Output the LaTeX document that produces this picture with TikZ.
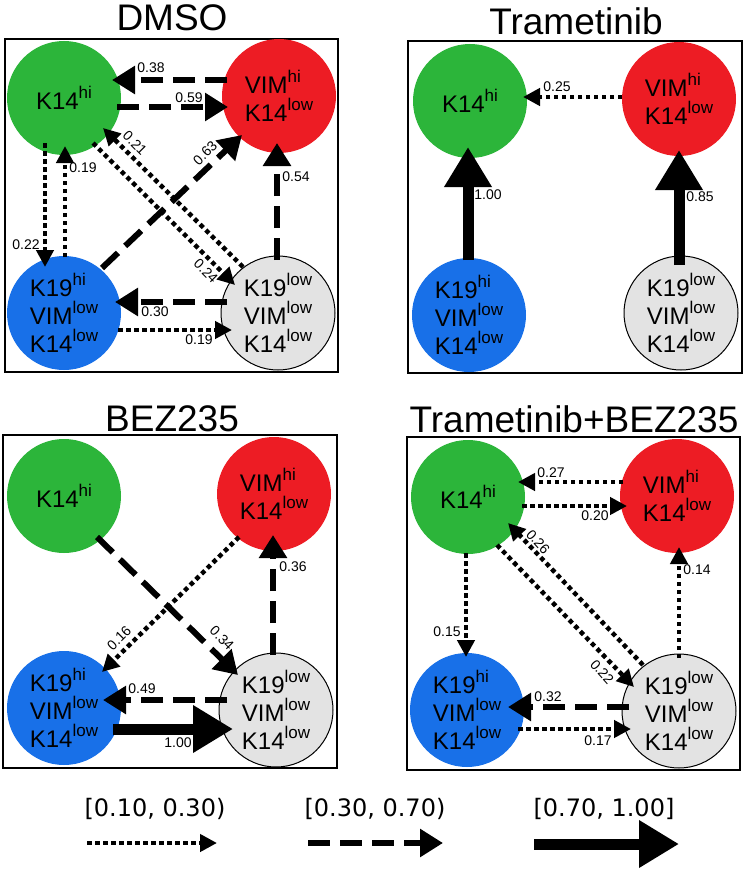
\documentclass[tikz,border=0pt]{standalone}
\usepackage{fontspec}
\setmainfont{Liberation Sans}
\newfontfamily\legendfont{DejaVu Sans}
\usetikzlibrary{arrows.meta}
\definecolor{cgreen}{RGB}{44,181,58}
\definecolor{cred}{RGB}{237,28,36}
\definecolor{cblue}{RGB}{24,112,232}
\definecolor{cgray}{RGB}{227,227,227}
\newcommand\sups[1]{\raisebox{11pt}{\fontsize{17}{17}\selectfont #1}}
\newcommand\txtG{K14\sups{hi}}
\newcommand\txtR{VIM\sups{hi}\\K14\sups{low}}
\newcommand\txtB{K19\sups{hi}\\VIM\sups{low}\\K14\sups{low}}
\newcommand\txtY{K19\sups{low}\\VIM\sups{low}\\K14\sups{low}}
\begin{document}
\begin{tikzpicture}[x=1pt,y=-1pt,
  cell/.style={circle, minimum size=114pt, inner sep=0pt, align=left, font=\fontsize{24}{28}\selectfont},
  cg/.style={cell, fill=cgreen},
  cr/.style={cell, fill=cred},
  cb/.style={cell, fill=cblue},
  cy/.style={cell, fill=cgray, draw=black, line width=1pt},
  dotarr/.style={line width=4.5pt, dash pattern=on 4.5pt off 3.5pt, -{Triangle[length=17pt,width=17pt]}},
  dasharr/.style={line width=6pt, dash pattern=on 22pt off 10pt, -{Triangle[length=23pt,width=27pt]}},
  thickarr/.style={line width=11pt, -{Triangle[length=40pt,width=45pt]}},
  lab/.style={font=\fontsize{14}{14}\selectfont, inner sep=0pt},
  frame/.style={line width=2pt},
  ttl/.style={font=\fontsize{37}{37}\selectfont, inner sep=0pt},
  leg/.style={font=\legendfont\fontsize{24}{24}\selectfont, inner sep=0pt}
]
\useasboundingbox (0,0) rectangle (746,872);
\fill[white] (0,0) rectangle (746,872);

% ---------- DMSO ----------
\node[ttl] (tdmso) at (172,18) {DMSO};
\draw[frame] (5,39) rectangle (338,372);
\node[cg] (dg) at (64,98) {\txtG};
\node[cr] (dr) at (279,96) {\txtR};
\node[cb] (db) at (64,313) {\txtB};
\node[cy] (dy) at (278,313) {\txtY};
\draw[dasharr] ([shift={(-52,-16)}]dr.center) -- ([shift={(48,-18)}]dg.center);
\draw[dasharr] ([shift={(53,9)}]dg.center) -- ([shift={(-51,11)}]dr.center);
\draw[dotarr] ([shift={(-19,45)}]dg.center) -- ([shift={(-19,-46)}]db.center);
\draw[dotarr] ([shift={(1,-56)}]db.center) -- ([shift={(1,48)}]dg.center);
\draw[dotarr] ([shift={(-35,-46)}]dy.center) -- ([shift={(39,30)}]dg.center);
\draw[dotarr] ([shift={(29,45)}]dg.center) -- ([shift={(-43,-28)}]dy.center);
\draw[dasharr] ([shift={(38,-45)}]db.center) -- ([shift={(-37,39)}]dr.center);
\draw[dasharr] ([shift={(-1,-53)}]dy.center) -- ([shift={(-2,47)}]dr.center);
\draw[dasharr] ([shift={(-51,-11)}]dy.center) -- ([shift={(51,-11)}]db.center);
\draw[dotarr] ([shift={(54,17)}]db.center) -- ([shift={(-46,17)}]dy.center);
\node[lab] (dl1) at (151,68) {0.38};
\node[lab] (dl2) at (189,98) {0.59};
\node[lab] (dl3) at (83,168) {0.19};
\node[lab] (dl4) at (26,245) {0.22};
\node[lab,rotate=-45] (dl5) at (135,143) {0.21};
\node[lab,rotate=45] (dl6) at (205,153) {0.63};
\node[lab] (dl7) at (296,177) {0.54};
\node[lab,rotate=-45] (dl8) at (206,271) {0.24};
\node[lab] (dl9) at (155,312) {0.30};
\node[lab] (dl10) at (199,340) {0.19};

% ---------- Trametinib ----------
\node[ttl] (ttram) at (576,21) {Trametinib};
\draw[frame] (408,41) rectangle (742,373);
\node[cg] (tg) at (470,101) {\txtG};
\node[cr] (tr) at (679,99) {\txtR};
\node[cb] (tb) at (469,315) {\txtB};
\node[cy] (ty) at (681,313) {\txtY};
\draw[dotarr] ([shift={(-57,-2)}]tr.center) -- ([shift={(53,-4)}]tg.center);
\draw[thickarr] ([shift={(-1,-55)}]tb.center) -- ([shift={(-2,46)}]tg.center);
\draw[thickarr] ([shift={(-2,-48)}]ty.center) -- ([shift={(0,51)}]tr.center);
\node[lab] (tl1) at (557,87) {0.25};
\node[lab] (tl2) at (488,195) {1.00};
\node[lab] (tl3) at (700,197) {0.85};

% ---------- BEZ235 ----------
\node[ttl] (tbez) at (172,419) {BEZ235};
\draw[frame] (3,435) rectangle (337,768);
\node[cg] (bg) at (64,496) {\txtG};
\node[cr] (br) at (274,494) {\txtR};
\node[cb] (bb) at (64,708) {\txtB};
\node[cy] (by) at (276,710) {\txtY};
\draw[dasharr] ([shift={(33,41)}]bg.center) -- ([shift={(-38,-35)}]by.center);
\draw[dotarr] ([shift={(-35,43)}]br.center) -- ([shift={(38,-36)}]bb.center);
\draw[dasharr] ([shift={(-3,-55)}]by.center) -- ([shift={(-1,41)}]br.center);
\draw[dasharr] ([shift={(-49,-10)}]by.center) -- ([shift={(39,-8)}]bb.center);
\draw[thickarr] ([shift={(49,21)}]bb.center) -- ([shift={(-43,19)}]by.center);
\node[lab,rotate=-45] (bl1) at (222,638) {0.34};
\node[lab,rotate=45] (bl2) at (119,638) {0.16};
\node[lab] (bl3) at (293,567) {0.36};
\node[lab] (bl4) at (142,689) {0.49};
\node[lab] (bl5) at (178,743) {1.00};

% ---------- Trametinib+BEZ235 ----------
\node[ttl] (ttb) at (574,419) {Trametinib+BEZ235};
\draw[frame] (407,437) rectangle (740,770);
\node[cg] (pg) at (468,497) {\txtG};
\node[cr] (pr) at (677,496) {\txtR};
\node[cb] (pb) at (467,710) {\txtB};
\node[cy] (py) at (679,711) {\txtY};
\draw[dotarr] ([shift={(-54,-14)}]pr.center) -- ([shift={(50,-15)}]pg.center);
\draw[dotarr] ([shift={(54,9)}]pg.center) -- ([shift={(-50,10)}]pr.center);
\draw[dotarr] ([shift={(-2,56)}]pg.center) -- ([shift={(-1,-53)}]pb.center);
\draw[dotarr] ([shift={(0,-53)}]py.center) -- ([shift={(2,51)}]pr.center);
\draw[dotarr] ([shift={(-36,-46)}]py.center) -- ([shift={(40,26)}]pg.center);
\draw[dotarr] ([shift={(29,48)}]pg.center) -- ([shift={(-45,-24)}]py.center);
\draw[dasharr] ([shift={(-50,-4)}]py.center) -- ([shift={(41,-3)}]pb.center);
\draw[dotarr] ([shift={(51,19)}]pb.center) -- ([shift={(-48,18)}]py.center);
\node[lab] (pl1) at (551,473) {0.27};
\node[lab] (pl2) at (595,516) {0.20};
\node[lab] (pl3) at (447,632) {0.15};
\node[lab] (pl4) at (697,570) {0.14};
\node[lab,rotate=-48] (pl5) at (538,542) {0.26};
\node[lab,rotate=-48] (pl6) at (602,672) {0.22};
\node[lab] (pl7) at (548,697) {0.32};
\node[lab] (pl8) at (598,741) {0.17};

% ---------- Legend ----------
\node[leg] (lt1) at (155,809) {[0.10, 0.30)};
\node[leg] (lt2) at (375,809) {[0.30, 0.70)};
\node[leg] (lt3) at (604,809) {[0.70, 1.00]};
\coordinate (la1) at (87,843);
\coordinate (lb1) at (217,843);
\coordinate (la2) at (308,843);
\coordinate (lb2) at (443,843);
\coordinate (la3) at (534,844);
\coordinate (lb3) at (679,844);
\draw[dotarr] (la1) -- (lb1);
\draw[dasharr] (la2) -- (lb2);
\draw[thickarr] (la3) -- (lb3);
\end{tikzpicture}
\end{document}
